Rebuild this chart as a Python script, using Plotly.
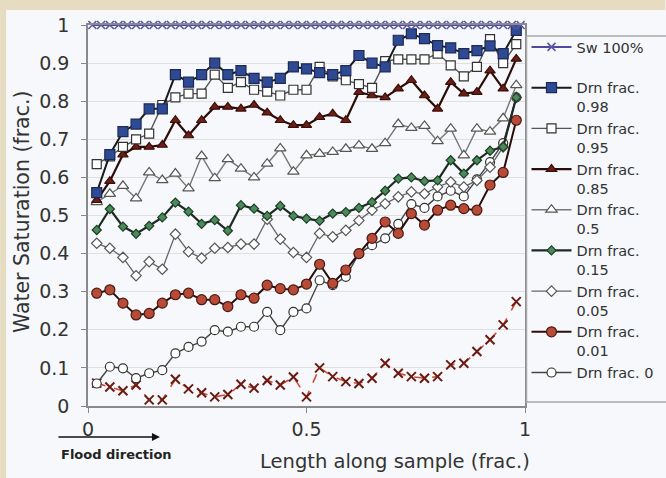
import plotly.graph_objects as go

# ---------------- data ----------------
x_pos = [0.02, 0.05, 0.08, 0.11, 0.14, 0.17, 0.20, 0.23, 0.26, 0.29, 0.32,
         0.35, 0.38, 0.41, 0.44, 0.47, 0.50, 0.53, 0.56, 0.59, 0.62, 0.65,
         0.68, 0.71, 0.74, 0.77, 0.80, 0.83, 0.86, 0.89, 0.92, 0.95, 0.98]

sw_x = [0.01, 0.03, 0.05, 0.07, 0.09, 0.11, 0.13, 0.15, 0.17, 0.19, 0.21, 0.23,
        0.25, 0.27, 0.29, 0.31, 0.33, 0.35, 0.37, 0.39, 0.41, 0.43, 0.45, 0.47,
        0.49, 0.51, 0.53, 0.55, 0.57, 0.59, 0.61, 0.63, 0.65, 0.67, 0.69, 0.71,
        0.73, 0.75, 0.77, 0.79, 0.81, 0.83, 0.85, 0.87, 0.89, 0.91, 0.93, 0.95,
        0.97, 0.99]
sw_100 = [1, 1, 1, 1, 1, 1, 1, 1, 1, 1, 1, 1, 1, 1, 1, 1, 1, 1, 1, 1, 1, 1, 1, 1, 1,
          1, 1, 1, 1, 1, 1, 1, 1, 1, 1, 1, 1, 1, 1, 1, 1, 1, 1, 1, 1, 1, 1, 1, 1, 1]

drn_098 = [0.56, 0.66, 0.72, 0.74, 0.78, 0.78, 0.87, 0.85, 0.87, 0.90, 0.87,
           0.88, 0.86, 0.85, 0.86, 0.89, 0.885, 0.875, 0.87, 0.88, 0.92, 0.90,
           0.89, 0.96, 0.977, 0.964, 0.946, 0.94, 0.925, 0.933, 0.945, 0.925, 0.986]
drn_095 = [0.635, 0.655, 0.68, 0.70, 0.715, 0.79, 0.81, 0.82, 0.82, 0.87, 0.835,
           0.85, 0.83, 0.825, 0.815, 0.83, 0.83, 0.89, 0.865, 0.855, 0.845, 0.835,
           0.905, 0.91, 0.91, 0.91, 0.925, 0.894, 0.865, 0.89, 0.963, 0.90, 0.95]
drn_085 = [0.54, 0.59, 0.66, 0.68, 0.68, 0.685, 0.75, 0.71, 0.75, 0.785, 0.785,
           0.78, 0.79, 0.77, 0.75, 0.737, 0.737, 0.758, 0.767, 0.75, 0.824, 0.815,
           0.81, 0.833, 0.855, 0.815, 0.78, 0.85, 0.82, 0.824, 0.88, 0.833, 0.911]
drn_050 = [0.535, 0.557, 0.578, 0.545, 0.613, 0.593, 0.61, 0.571, 0.656, 0.598, 0.648,
           0.623, 0.60, 0.636, 0.676, 0.615, 0.658, 0.662, 0.667, 0.675, 0.684, 0.675,
           0.69, 0.74, 0.73, 0.735, 0.695, 0.728, 0.658, 0.728, 0.72, 0.755, 0.842]
drn_015 = [0.462, 0.517, 0.471, 0.452, 0.473, 0.495, 0.534, 0.51, 0.478, 0.488, 0.46,
           0.527, 0.518, 0.499, 0.525, 0.499, 0.492, 0.486, 0.505, 0.509, 0.52, 0.535,
           0.565, 0.597, 0.60, 0.59, 0.592, 0.645, 0.61, 0.645, 0.67, 0.68, 0.81]
drn_005 = [0.427, 0.414, 0.39, 0.342, 0.379, 0.359, 0.451, 0.405, 0.388, 0.414, 0.416,
           0.425, 0.425, 0.49, 0.438, 0.403, 0.39, 0.453, 0.444, 0.461, 0.487, 0.514,
           0.531, 0.549, 0.562, 0.557, 0.575, 0.588, 0.575, 0.592, 0.627, 0.68, 0.81]
drn_001 = [0.296, 0.305, 0.27, 0.239, 0.243, 0.27, 0.292, 0.296, 0.279, 0.279, 0.261,
           0.292, 0.283, 0.317, 0.308, 0.305, 0.32, 0.372, 0.322, 0.357, 0.40, 0.44,
           0.483, 0.453, 0.505, 0.475, 0.514, 0.527, 0.518, 0.514, 0.58, 0.613, 0.75]
drn_000 = [0.059, 0.103, 0.099, 0.073, 0.086, 0.094, 0.138, 0.155, 0.169, 0.199, 0.195,
           0.208, 0.208, 0.247, 0.199, 0.247, 0.256, 0.33, 0.317, 0.339, 0.40, 0.422,
           0.44, 0.478, 0.53, 0.52, 0.55, 0.565, 0.55, 0.595, 0.64, 0.69, 0.81]
sw_init = [0.06, 0.05, 0.04, 0.055, 0.016, 0.016, 0.07, 0.045, 0.035, 0.024, 0.03,
           0.057, 0.047, 0.067, 0.055, 0.076, 0.024, 0.10, 0.077, 0.064, 0.059, 0.073,
           0.112, 0.086, 0.077, 0.073, 0.077, 0.108, 0.112, 0.143, 0.174, 0.213, 0.274]

y_ticks = [0, 0.1, 0.2, 0.3, 0.4, 0.5, 0.6, 0.7, 0.8, 0.9, 1]
x_ticks = [0, 0.5, 1]

# ---------------- geometry helpers ----------------
W, H = 666, 478
L, R, T, B = 88, 525.5, 25, 406


def px2x(px):
    return (px - L) / (R - L)


def py2y(py):
    return (B - py) / (B - T)


FONT = "DejaVu Sans"
TXT = "#333333"

fig = go.Figure()

# unlabelled initial saturation (red dashed, x markers)
fig.add_trace(go.Scatter(
    x=x_pos, y=sw_init, mode="lines+markers", showlegend=False,
    line=dict(color="#d04a35", width=1.6, dash="dash"),
    marker=dict(symbol="x-thin", size=9, line=dict(color="#6a1a10", width=2)),
    cliponaxis=False))

series = [
    # name, data, line color, line width, symbol, size, fill, outline, rank
    ("Drn frac. 0", drn_000, "#444444", 1.4, "circle", 9, "white", "#333333", 9),
    ("Drn frac.<br>0.01", drn_001, "#2a0e0a", 2.0, "circle", 10, "#b84a38", "#4a1a12", 8),
    ("Drn frac.<br>0.05", drn_005, "#666666", 1.3, "diamond", 8, "white", "#555555", 7),
    ("Drn frac.<br>0.15", drn_015, "#1e2a22", 2.2, "diamond", 7, "#4b8a5a", "#1d3d25", 6),
    ("Drn frac.<br>0.5", drn_050, "#777777", 1.4, "triangle-up", 10, "white", "#555555", 5),
    ("Drn frac.<br>0.85", drn_085, "#2b0d08", 2.2, "triangle-up", 9, "#6b1f16", "#3b0d08", 4),
    ("Drn frac.<br>0.95", drn_095, "#555555", 1.4, "square", 9, "white", "#333333", 3),
    ("Drn frac.<br>0.98", drn_098, "#1a1a1a", 2.0, "square", 10, "#2f4a94", "#1d2a55", 2),
]
for name, ys, lc, lw, sym, sz, fc, oc, rank in series:
    fig.add_trace(go.Scatter(
        x=x_pos, y=ys, mode="lines+markers", name=name, legendrank=rank,
        line=dict(color=lc, width=lw),
        marker=dict(symbol=sym, size=sz, color=fc, line=dict(color=oc, width=1.2)),
        cliponaxis=False))

fig.add_trace(go.Scatter(
    x=sw_x, y=sw_100, mode="lines+markers", name="Sw 100%<br> ", legendrank=1,
    line=dict(color="#4f4a9e", width=2),
    marker=dict(symbol="x-thin", size=8, line=dict(color="#5b55a6", width=1.6)),
    cliponaxis=False))

shapes = [
    # beige frame (top and left)
    dict(type="rect", xref="paper", yref="paper", x0=px2x(0), x1=px2x(W),
         y0=py2y(10), y1=py2y(0), fillcolor="#e6dcc2", line=dict(width=0), layer="above"),
    dict(type="rect", xref="paper", yref="paper", x0=px2x(0), x1=px2x(6),
         y0=py2y(H), y1=py2y(0), fillcolor="#e6dcc2", line=dict(width=0), layer="above"),
    # legend frame
    dict(type="rect", xref="paper", yref="paper", x0=px2x(527), x1=px2x(700),
         y0=py2y(402), y1=py2y(36), fillcolor="rgba(0,0,0,0)",
         line=dict(color="#a8a8a8", width=1.5), layer="above"),
]

annotations = [
    dict(xref="paper", yref="paper", x=px2x(395), y=py2y(462), showarrow=False,
         xanchor="center", yanchor="middle",
         text="Length along sample (frac.)", font=dict(family=FONT, size=19.5, color=TXT)),
    dict(xref="paper", yref="paper", x=px2x(22), y=py2y(212), showarrow=False,
         xanchor="center", yanchor="middle",
         textangle=-90, text="Water Saturation (frac.)",
         font=dict(family=FONT, size=20.5, color=TXT)),
    dict(xref="paper", yref="paper", x=px2x(160), y=py2y(437), ax=-103, ay=0,
         text="", showarrow=True, arrowhead=2, arrowsize=1, arrowwidth=1.6,
         arrowcolor="#111111"),
    dict(xref="paper", yref="paper", x=px2x(117), y=py2y(454), showarrow=False,
         xanchor="center", yanchor="middle",
         text="<b>Flood direction</b>", font=dict(family=FONT, size=13, color="#222222")),
]

fig.update_layout(
    width=W, height=H,
    margin=dict(l=L, r=W - R, t=T, b=H - B, autoexpand=False),
    paper_bgcolor="#f6f8fb", plot_bgcolor="#f6f8fb",
    font=dict(family=FONT, color=TXT),
    showlegend=True,
    legend=dict(x=px2x(527), xanchor="left", y=py2y(31), yanchor="top",
                font=dict(family=FONT, size=14.5, color=TXT),
                bgcolor="rgba(0,0,0,0)", borderwidth=0, itemwidth=40,
                valign="top", tracegroupgap=0),
    xaxis=dict(range=[0, 1], tickvals=x_ticks, ticks="outside", ticklen=5,
               tickcolor="#888888", showline=True, linecolor="#8a8a8a", linewidth=1.5,
               mirror=True, showgrid=False, zeroline=False,
               tickfont=dict(family=FONT, size=19, color=TXT)),
    yaxis=dict(range=[0, 1], tickvals=y_ticks, ticks="outside", ticklen=5,
               tickcolor="#888888", showline=True, linecolor="#8a8a8a", linewidth=1.5,
               mirror=True, showgrid=True, gridcolor="#e0e0e0", zeroline=False,
               ticklabelstandoff=8,
               tickfont=dict(family=FONT, size=19, color=TXT)),
    shapes=shapes, annotations=annotations,
)

fig.write_html("out.html")
